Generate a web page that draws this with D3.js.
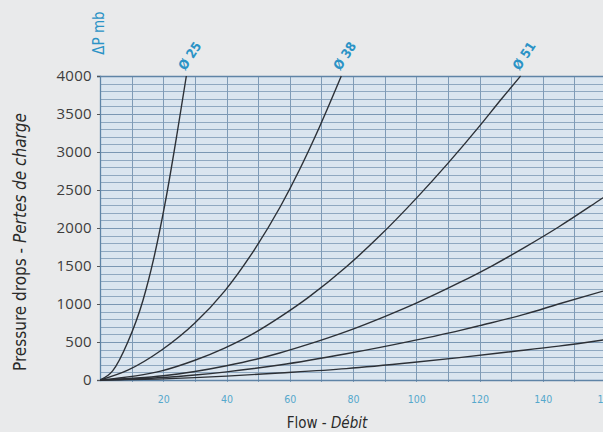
<!DOCTYPE html>
<html><head><meta charset="utf-8">
<script src="https://cdn.jsdelivr.net/npm/d3@7"></script>
<style>
html,body{margin:0;padding:0;background:#e9eaeb;}
svg{display:block;}
</style></head>
<body><svg id="chart" width="603" height="432"></svg>
<script>
// ---- data ----
const flowTicks = [20, 40, 60, 80, 100, 120, 140, 160];
const pressureTicks = [0, 500, 1000, 1500, 2000, 2500, 3000, 3500, 4000];
const seriesNames = ["Ø 25", "Ø 38", "Ø 51", "c4", "c5", "c6"];
const labelledSeries = ["Ø 25", "Ø 38", "Ø 51"];
const curveD25 = [[0,0],[4,120],[8.8,500],[13.6,1050],[17,1600],[20.6,2330],[24.4,3250],[27.3,4000]];
const curveD38 = [[0,0],[8.8,130],[19.5,395],[30,750],[39.4,1170],[48.9,1720],[57,2280],[63,2760],[69.4,3330],[76.3,4000]];
const curveD51 = [[0,0],[19.5,120],[30,260],[39.4,420],[48.9,620],[57,830],[66,1090],[77.9,1490],[88.3,1890],[100,2390],[110,2850],[120,3340],[127,3700],[133,4000]];
const curve4 = [[0,0],[20,55],[30,112],[40,188],[50,280],[56.8,355],[65,458],[78,640],[90,835],[100,1012],[113.6,1280],[124,1503],[134.7,1755],[145,2013],[156.8,2335],[162,2480]];
const curve5 = [[0,0],[20,32],[30,65],[40,107],[56.8,197],[77.9,345],[98.7,515],[113.6,650],[120,715],[134.7,870],[145,1000],[162,1205]];
const curve6 = [[0,0],[20,15],[30,31],[40,51],[56.8,92],[77.9,150],[98.7,230],[113.6,295],[129,368],[145,445],[162,545]];
const allCurves = [curveD25, curveD38, curveD51, curve4, curve5, curve6];

// ---- layout ----
const svg = d3.select("#chart");
const x = d3.scaleLinear().domain([0, 160]).range([100, 606]);
const y = d3.scaleLinear().domain([0, 4000]).range([380, 76]);
const narrow = "'DejaVu Sans Condensed','DejaVu Sans',sans-serif";
const blue = "#2b93c6";

// plot background
svg.append("rect").attr("x", x(0)).attr("y", y(4000))
  .attr("width", 620 - x(0)).attr("height", y(0) - y(4000))
  .attr("fill", "#dae5ef");

// horizontal grid every 100
const g = svg.append("g");
g.selectAll("line.h").data(d3.range(100, 4000, 100)).join("line")
  .attr("x1", x(0)).attr("x2", 620)
  .attr("y1", d => Math.round(y(d)) + 0.5).attr("y2", d => Math.round(y(d)) + 0.5)
  .attr("stroke", d => d % 500 === 0 ? "#7a97b3" : "#8fa8c0").attr("stroke-width", 1);
// vertical grid every 10
g.selectAll("line.v").data(d3.range(10, 170, 10)).join("line")
  .attr("x1", d => Math.round(x(d)) + 0.5).attr("x2", d => Math.round(x(d)) + 0.5)
  .attr("y1", y(4000)).attr("y2", y(0) + 2)
  .attr("stroke", "#7f9bb6").attr("stroke-width", 1);

// top border
svg.append("line").attr("x1", x(0) - 3).attr("x2", 620)
  .attr("y1", y(4000) + 0.5).attr("y2", y(4000) + 0.5)
  .attr("stroke", "#5f84a6").attr("stroke-width", 1.3);

// y axis
const yAxis = svg.append("g").attr("transform", `translate(${x(0)},0)`)
  .call(d3.axisLeft(y).tickValues(pressureTicks).tickSize(3).tickPadding(5).tickFormat(d3.format("d")));
yAxis.select(".domain").attr("stroke", "#5f84a6").attr("stroke-width", 1.3);
yAxis.selectAll(".tick line").attr("stroke", "#555");
yAxis.selectAll("text").attr("font-family", "'Open Sans',sans-serif").attr("font-size", 15)
  .attr("fill", "#3d3d3d").attr("letter-spacing", "0.3");

// x axis
const xAxis = svg.append("g").attr("transform", `translate(0,${y(0)})`)
  .call(d3.axisBottom(x).tickValues(flowTicks).tickSize(0).tickPadding(16));
xAxis.select(".domain").attr("stroke", "#5f84a6").attr("stroke-width", 1.3);
xAxis.selectAll("text").attr("font-family", narrow).attr("font-size", 10.5).attr("fill", "#55a8cc");

// curves
svg.append("clipPath").attr("id", "pc").append("rect")
  .attr("x", x(0)).attr("y", y(4000) - 1).attr("width", 620).attr("height", y(0) - y(4000) + 3);
const line = d3.line().x(d => x(d[0])).y(d => y(d[1])).curve(d3.curveMonotoneX);
svg.append("g").attr("clip-path", "url(#pc)").selectAll("path").data(allCurves).join("path")
  .attr("d", line).attr("fill", "none").attr("stroke", "#2c3036").attr("stroke-width", 1.4);

// diameter labels at curve ends
labelledSeries.forEach(name => {
  const c = allCurves[seriesNames.indexOf(name)];
  const end = c[c.length - 1];
  svg.append("text")
    .attr("transform", `translate(${x(end[0]) - 1},${y(end[1]) - 5}) rotate(-57)`)
    .attr("font-family", narrow).attr("font-size", 13).attr("font-weight", "bold")
    .attr("fill", blue).text(name);
});

// ΔP mb
svg.append("text").attr("transform", "translate(104,33) rotate(-90)")
  .attr("text-anchor", "middle").attr("font-family", narrow).attr("font-size", 15)
  .attr("fill", blue).text("ΔP mb");

// axis titles
const yt = svg.append("text").attr("transform", "translate(26,242) rotate(-90)")
  .attr("text-anchor", "middle").attr("font-family", narrow).attr("font-size", 17)
  .attr("fill", "#2a2a2a");
yt.append("tspan").text("Pressure drops - ");
yt.append("tspan").attr("font-style", "italic").text("Pertes de charge");

const xt = svg.append("text").attr("x", 327).attr("y", 428)
  .attr("text-anchor", "middle").attr("font-family", narrow).attr("font-size", 15)
  .attr("fill", "#2a2a2a");
xt.append("tspan").text("Flow - ");
xt.append("tspan").attr("font-style", "italic").text("Débit");
</script></body></html>
